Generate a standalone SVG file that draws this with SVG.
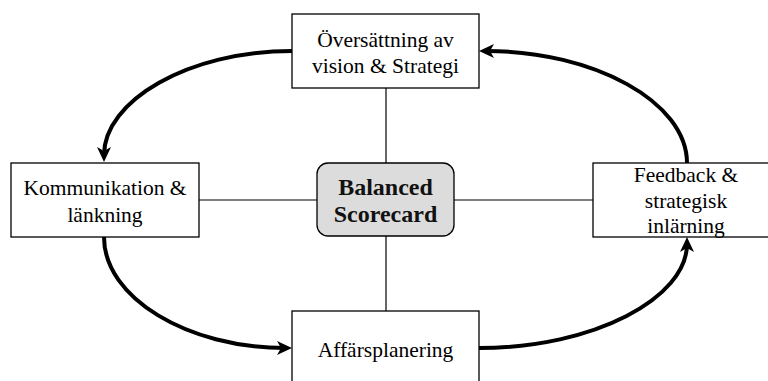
<svg xmlns="http://www.w3.org/2000/svg" width="768" height="381" viewBox="0 0 768 381">
<style>
.box{fill:#fff;stroke:#000;stroke-width:1.3}
.core{fill:#dcdcdc;stroke:#000;stroke-width:1.3}
.t{font-family:"Liberation Serif","Times New Roman",serif;font-size:21.5px;fill:#000;text-anchor:middle}
.b{font-family:"Liberation Serif","Times New Roman",serif;font-size:24px;font-weight:bold;fill:#111;text-anchor:middle}
.ln{stroke:#000;stroke-width:1.2;fill:none}
.arr{stroke:#000;stroke-width:4;fill:none;marker-end:url(#ah)}
</style>
<defs>
<marker id="ah" markerUnits="userSpaceOnUse" markerWidth="16" markerHeight="14" refX="8" refY="7" orient="auto" viewBox="0 0 16 14">
<path d="M0,0 L15,7 L0,14 L4,7 z" fill="#000"/>
</marker>
</defs>
<g id="connectors">
<line class="ln" x1="386" y1="88" x2="386" y2="163"/>
<line class="ln" x1="386" y1="236" x2="386" y2="311"/>
<line class="ln" x1="199" y1="200" x2="317" y2="200"/>
<line class="ln" x1="454" y1="200" x2="593" y2="200"/>
<path class="arr" d="M292,51 C188,51 104,101 104,155"/>
<path class="arr" d="M687,163 C687,102 594,51 486,51"/>
<path class="arr" d="M104,237 C104,298 188,348 285,348"/>
<path class="arr" d="M479,348 C594,348 687,298 687,244"/>
</g>
<g id="top">
<rect class="box" x="292" y="14" width="187" height="74"/>
<text class="t" x="385.5" y="47">Översättning av</text>
<text class="t" x="385.5" y="73">vision &amp; Strategi</text>
</g>
<g id="left">
<rect class="box" x="11" y="163" width="188" height="74"/>
<text class="t" x="105" y="195">Kommunikation &amp;</text>
<text class="t" x="105" y="222">länkning</text>
</g>
<g id="right">
<rect class="box" x="593" y="163" width="187" height="74"/>
<text class="t" x="686" y="182">Feedback &amp;</text>
<text class="t" x="686" y="208">strategisk</text>
<text class="t" x="686" y="233">inlärning</text>
</g>
<g id="center">
<rect class="core" x="317" y="163" width="137" height="73" rx="11" ry="11"/>
<text class="b" x="385.5" y="195">Balanced</text>
<text class="b" x="385.5" y="222">Scorecard</text>
</g>
<g id="bottom">
<rect class="box" x="292" y="311" width="187" height="74"/>
<text class="t" x="385.5" y="357">Affärsplanering</text>
</g>
</svg>
